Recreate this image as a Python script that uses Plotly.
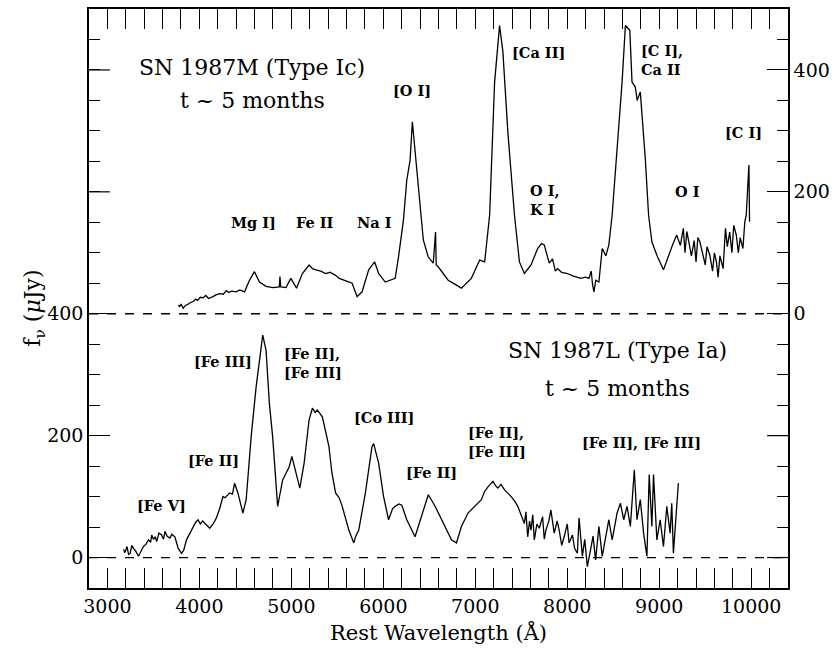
import plotly.graph_objects as go

# ---------------- data ----------------
# SN 1987M (Type Ic), right-axis units (offset by +400 on the left axis)
wl_1987m = [3770, 3785, 3800, 3824, 3850, 3870, 3900, 3932, 3960, 3980, 4010, 4040, 4070, 4100,
            4148, 4180, 4220, 4260, 4293, 4320, 4350, 4401, 4440, 4491,
            4545, 4599, 4653, 4725, 4800, 4869, 4876, 4885, 4941, 4995, 5056, 5120, 5193,
            5230, 5265, 5320, 5373, 5420, 5481, 5520, 5571, 5661, 5715, 5769, 5841, 5906,
            5949, 6021, 6129, 6165, 6219, 6255, 6291, 6316, 6338, 6381, 6435, 6489, 6543,
            6568, 6575, 6597, 6669, 6705, 6795, 6849, 6957, 7048, 7102, 7156, 7210, 7264,
            7300, 7354, 7426, 7480, 7534, 7606, 7678, 7720, 7750, 7780, 7804, 7840, 7870, 7894,
            7940, 8002, 8060, 8146, 8200, 8236, 8260, 8275, 8290, 8310, 8344, 8380, 8420, 8452,
            8488, 8542, 8596, 8632, 8680,
            8704, 8740, 8760, 8794, 8848, 8884, 8920, 8974, 9046, 9100, 9150, 9190, 9230, 9262, 9280,
            9300, 9334, 9350, 9380, 9400, 9420, 9442, 9470, 9500, 9520, 9550, 9580, 9600,
            9622, 9640, 9660, 9694, 9720, 9740, 9766, 9790, 9810, 9838, 9860, 9880, 9910,
            9930, 9946, 9960, 9975, 9982]
fl_1987m = [14, 12, 16, 9, 14, 15, 18, 20, 24, 22, 27, 26, 30, 25,
            28, 31, 33, 32, 38, 35, 37, 36, 39, 36,
            55, 69, 52, 45, 43, 44, 61, 44, 43, 58, 42, 66, 80,
            74, 72, 70, 66, 68, 63, 58, 55, 50, 28, 36, 72, 85,
            66, 52, 58, 93, 154, 219, 252, 315, 279, 208, 121, 93, 83,
            134, 80, 77, 61, 55, 47, 42, 58, 88, 85, 162, 380, 473,
            430, 298, 162, 85, 66, 80, 107, 115, 113, 95, 83, 90, 70, 74,
            68, 66, 62, 58, 60, 58, 70, 48, 36, 55, 52, 107, 95, 113,
            162, 271, 380, 473, 465,
            380, 372, 350, 364, 255, 162, 118, 96, 72, 96, 115, 129, 112, 140, 100,
            135, 107, 95, 120, 85, 125, 118, 100, 80, 110, 96, 70, 100,
            85, 60, 95, 74, 140, 110, 134, 100, 145, 129, 100, 125, 107,
            150, 162, 200, 244, 151]

# SN 1987L (Type Ia), left-axis units
wl_1987l = [3176, 3190, 3213, 3230, 3248, 3265, 3284, 3310, 3338, 3370, 3392, 3420, 3446, 3470,
            3482, 3500, 3520, 3536, 3560, 3590, 3610, 3626, 3650, 3680, 3700, 3734, 3770, 3806,
            3830, 3860, 3900, 3932, 3960, 3986, 4010, 4035, 4059, 4090, 4113, 4150, 4185, 4220,
            4257, 4280, 4300, 4329, 4360, 4383, 4419,
            4473, 4509, 4563, 4617, 4671, 4689, 4725, 4761, 4797, 4851, 4905, 4977, 5006,
            5049, 5092, 5139, 5193, 5229, 5260, 5283, 5337, 5409, 5440, 5481, 5520, 5553, 5625, 5679,
            5700, 5733, 5805, 5877, 5895, 5949, 6003, 6057, 6100, 6129, 6170, 6201, 6255, 6345, 6420, 6489,
            6560, 6633, 6741, 6795, 6849, 6921, 6993, 7030, 7066, 7100, 7138, 7192, 7220, 7246, 7280,
            7318, 7360, 7390, 7430, 7462,
            7534, 7550, 7570, 7590, 7606, 7625, 7642, 7670, 7696, 7732, 7750, 7768, 7800,
            7822, 7858, 7890, 7912, 7940, 7966, 8000, 8020, 8056, 8080, 8110, 8128, 8164,
            8190, 8218, 8254, 8280, 8308, 8344, 8380, 8416, 8452, 8488, 8542, 8578, 8614,
            8650, 8686, 8729, 8758, 8794, 8830, 8866, 8891, 8920, 8938, 8974, 9010, 9046,
            9082, 9118, 9136, 9154, 9172, 9208]
fl_1987l = [13, 8, 18, 5, 7, 20, 15, 10, 2, 12, 18, 22, 29, 25,
            37, 30, 34, 26, 40, 37, 30, 43, 35, 32, 38, 34, 15, 7,
            12, 29, 40, 51, 58, 62, 55, 60, 56, 52, 48, 55, 65, 80,
            100, 98, 102, 106, 104, 122, 106,
            73, 95, 198, 280, 351, 365, 340, 253, 198, 84, 127, 149, 166,
            138, 114, 155, 226, 245, 238, 242, 231, 182, 140, 106, 98, 84, 45, 24,
            35, 45, 106, 182, 187, 155, 100, 62, 80, 84, 88, 86, 62, 34, 70, 103,
            85, 62, 29, 24, 51, 73, 84, 90, 95, 108, 116, 125, 118, 114, 120,
            111, 105, 100, 92, 84,
            56, 75, 34, 60, 45, 70, 29, 55, 48, 67, 30, 45, 60,
            78, 40, 60, 45, 20, 34, 55, 24, 37, 15, 7, 65, 2,
            30, -15, 13, 35, -4, 51, 2, 29, 62, 29, 73, 89, 62,
            84, 51, 144, 62, 95, 40, 2, 136, 51, 136, 29, 62, 18,
            84, 40, 89, 7, 51, 122]

x_ticks = [3000, 4000, 5000, 6000, 7000, 8000, 9000, 10000]
x_tick_labels = ["3000", "4000", "5000", "6000", "7000", "8000", "9000", "10000"]
y_left_ticks = [0, 200, 400]              # labelled, left axis
y_left_extra = [600, 800]                 # unlabelled long ticks, left axis (left units)
y_right_ticks = [0, 200, 400]             # labelled, right axis (SN 1987M scale)
y_right_extra = [0, 200]                  # unlabelled long ticks on right side (left units)

# labels: (text, wavelength, left-axis flux, xanchor)
labels = [
    ("Mg I]", 4593, 550, "center"),
    ("Fe II", 5258, 550, "center"),
    ("Na I", 5906, 550, "center"),
    ("[O I]", 6316, 767, "center"),
    ("[Ca II]", 7688, 829, "center"),
    ("[C I],<br>Ca II", 8779, 817, "left"),
    ("[C I]", 9914, 698, "center"),
    ("O I,<br>K I", 7570, 586, "left"),
    ("O I", 9309, 600, "center"),
    ("[Fe V]", 3583, 85, "center"),
    ("[Fe II]", 4150, 160, "center"),
    ("[Fe III]", 4258, 321, "center"),
    ("[Fe II],<br>[Fe III]", 4901, 319, "left"),
    ("[Co III]", 6003, 229, "center"),
    ("[Fe II]", 6522, 140, "center"),
    ("[Fe II],<br>[Fe III]", 6900, 189, "left"),
    ("[Fe II], [Fe III]", 8812, 188, "center"),
]
titles = [
    ("SN 1987M (Type Ic)", 4577, 804),
    ("t ~ 5 months", 4577, 750),
    ("SN 1987L (Type Ia)", 8542, 339),
    ("t ~ 5 months", 8542, 278),
]

SERIF = "DejaVu Serif"
fig = go.Figure()

fig.add_trace(go.Scatter(x=wl_1987l, y=fl_1987l, mode="lines",
                         line=dict(color="black", width=1.3), yaxis="y", showlegend=False))
fig.add_trace(go.Scatter(x=wl_1987m, y=fl_1987m, mode="lines",
                         line=dict(color="black", width=1.3), yaxis="y2", showlegend=False))

for yv in (0, 400):
    fig.add_shape(type="line", xref="paper", x0=0, x1=1, yref="y", y0=yv, y1=yv,
                  line=dict(color="black", width=1.3, dash="dash"))

# extra unlabelled long ticks (left side above 400, right side below its 0)
TICK_FRAC = 21 / 703
for yv in y_left_extra:
    fig.add_shape(type="line", xref="paper", x0=0, x1=TICK_FRAC, yref="y", y0=yv, y1=yv,
                  line=dict(color="black", width=1.2))
for yv in y_right_extra:
    fig.add_shape(type="line", xref="paper", x0=1 - TICK_FRAC, x1=1, yref="y", y0=yv, y1=yv,
                  line=dict(color="black", width=1.2))

for txt, x, y, xa in labels:
    fig.add_annotation(x=x, y=y, xref="x", yref="y", text=f"<b>{txt}</b>", showarrow=False,
                       xanchor=xa, yanchor="middle", align="left",
                       font=dict(family=SERIF, size=14.5, color="black"))
for txt, x, y in titles:
    fig.add_annotation(x=x, y=y, xref="x", yref="y", text=txt, showarrow=False,
                       xanchor="center", yanchor="middle",
                       font=dict(family=SERIF, size=22, color="black"))

fig.add_annotation(x=-0.101, y=0.484, xref="paper", yref="paper", textangle=-90,
                   text="f<sub>ν</sub> (<i>μ</i>Jy)", showarrow=False,
                   font=dict(family=SERIF, size=22, color="black"))

tickfont = dict(family=SERIF, size=19, color="black")
axis_common = dict(showline=True, linecolor="black", linewidth=1.5, ticks="inside",
                   tickcolor="black", tickwidth=1.2, showgrid=False, zeroline=False,
                   tickfont=tickfont)
minor_x = dict(dtick=200, ticklen=9, ticks="inside", tickcolor="black", tickwidth=1.2)
minor_y = dict(dtick=50, ticklen=11, ticks="inside", tickcolor="black", tickwidth=1.2)

fig.update_layout(
    width=837, height=651,
    margin=dict(l=89, r=45, t=7, b=63),
    plot_bgcolor="white", paper_bgcolor="white",
    xaxis=dict(range=[2800, 10400], tickvals=x_ticks, ticktext=x_tick_labels, ticklen=20,
               mirror="allticks", minor=minor_x,
               title=dict(text="Rest Wavelength (Å)", font=dict(family=SERIF, size=21, color="black"),
                          standoff=10),
               **axis_common),
    yaxis=dict(range=[-50, 900], tickvals=y_left_ticks, ticklen=21, minor=minor_y, **axis_common),
    yaxis2=dict(range=[-450, 500], overlaying="y", side="right", tickvals=y_right_ticks,
                ticklen=21, minor=minor_y, **axis_common),
)

fig.write_html("out.html")
